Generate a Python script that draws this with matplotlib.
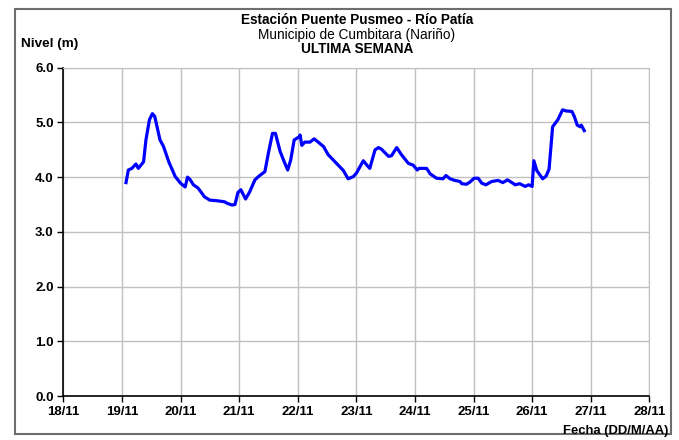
import matplotlib.pyplot as plt
from matplotlib.patches import Rectangle

plt.rcParams['font.family'] = ['Liberation Sans', 'DejaVu Sans']

# day of November (fractional) and river level (m)
dias = [19.07, 19.11, 19.17, 19.24, 19.28, 19.37, 19.41, 19.47, 19.52, 19.56,
        19.60, 19.65, 19.71, 19.80, 19.91, 20.00, 20.08, 20.12, 20.16, 20.22,
        20.30, 20.41, 20.50, 20.61, 20.75, 20.80, 20.88, 20.93, 20.98, 21.03,
        21.11, 21.18, 21.27, 21.34, 21.44, 21.50, 21.57, 21.62, 21.70, 21.77,
        21.83, 21.88, 21.94, 22.03, 22.04, 22.07, 22.12, 22.21, 22.28, 22.35,
        22.44, 22.52, 22.61, 22.69, 22.78, 22.86, 22.95, 23.00, 23.12, 23.18,
        23.23, 23.32, 23.38, 23.43, 23.55, 23.60, 23.69, 23.77, 23.89, 23.97,
        24.04, 24.07, 24.20, 24.26, 24.37, 24.48, 24.53, 24.60, 24.68, 24.77,
        24.80, 24.88, 24.94, 25.01, 25.08, 25.14, 25.21, 25.31, 25.42, 25.50,
        25.58, 25.67, 25.71, 25.79, 25.88, 25.94, 26.00, 26.03, 26.08, 26.18,
        26.24, 26.29, 26.35, 26.44, 26.52, 26.58, 26.68, 26.72, 26.77, 26.82,
        26.84, 26.89]
nivel = [3.90, 4.13, 4.16, 4.24, 4.16, 4.28, 4.68, 5.05, 5.16, 5.11,
         4.92, 4.68, 4.56, 4.28, 4.01, 3.89, 3.82, 4.00, 3.96, 3.86,
         3.80, 3.64, 3.58, 3.57, 3.55, 3.52, 3.49, 3.50, 3.72, 3.77,
         3.60, 3.73, 3.95, 4.02, 4.10, 4.44, 4.80, 4.80, 4.47, 4.28,
         4.13, 4.31, 4.68, 4.74, 4.77, 4.58, 4.64, 4.64, 4.70, 4.64,
         4.56, 4.41, 4.31, 4.22, 4.12, 3.97, 4.01, 4.07, 4.30, 4.22,
         4.16, 4.50, 4.54, 4.51, 4.38, 4.39, 4.54, 4.41, 4.25, 4.22,
         4.13, 4.16, 4.16, 4.06, 3.98, 3.97, 4.03, 3.97, 3.94, 3.92,
         3.88, 3.87, 3.91, 3.98, 3.98, 3.89, 3.86, 3.92, 3.94, 3.90,
         3.95, 3.89, 3.86, 3.88, 3.83, 3.86, 3.83, 4.30, 4.12, 3.97,
         4.02, 4.15, 4.92, 5.05, 5.23, 5.21, 5.20, 5.11, 4.95, 4.92,
         4.95, 4.85]

x_ticks = list(range(18, 29))
x_labels = ['%d/11' % d for d in x_ticks]
y_ticks = [0, 1, 2, 3, 4, 5, 6]

fig = plt.figure(figsize=(6.79, 4.4), dpi=100)
ax = fig.add_axes([63.3 / 679, 44 / 440, 586 / 679, 328.3 / 440])

ax.plot(dias, nivel, color='#0000FF', lw=2.3, solid_joinstyle='round')

ax.set_xlim(18, 28)
ax.set_ylim(0, 6)
ax.set_xticks(x_ticks)
ax.set_xticklabels(x_labels, fontsize=9.5, fontweight='bold')
ax.set_yticks(y_ticks)
ax.set_yticklabels(['%.1f' % v for v in y_ticks], fontsize=9.5, fontweight='bold')
ax.grid(True, color='#C0C0C0', lw=1)
ax.set_axisbelow(True)
ax.tick_params(direction='out', length=4, width=1, color='black', pad=3)

for s in ['top', 'right']:
    ax.spines[s].set_color('#C0C0C0')
for s in ['left', 'bottom']:
    ax.spines[s].set_color('black')
    ax.spines[s].set_linewidth(1.2)

fig.text(357 / 679, 1 - 20 / 440, 'Estación Puente Pusmeo - Río Patía',
         ha='center', va='center', fontsize=9.8, fontweight='bold')
fig.text(357 / 679, 1 - 35 / 440, 'Municipio de Cumbitara (Nariño)',
         ha='center', va='center', fontsize=9.8)
fig.text(357 / 679, 1 - 49 / 440, 'ULTIMA SEMANA',
         ha='center', va='center', fontsize=9.8, fontweight='bold')
fig.text(21 / 679, 1 - 44 / 440, 'Nivel (m)', ha='left', va='center',
         fontsize=9.7, fontweight='bold')
fig.text(668 / 679, 1 - 431 / 440, 'Fecha (DD/M/AA)', ha='right', va='center',
         fontsize=9.4, fontweight='bold')

fig.patches.append(Rectangle((14.7 / 679, 6 / 440), 656 / 679, 424.7 / 440,
                             transform=fig.transFigure, fill=False,
                             edgecolor='#6E6E6E', lw=1.5))

fig.savefig('out.png', dpi=100)
